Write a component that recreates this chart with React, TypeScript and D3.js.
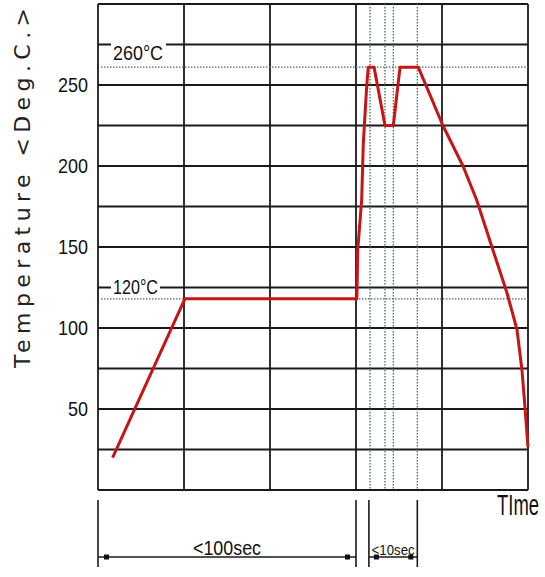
import React from "react";
import * as d3 from "d3";

// time (s, arbitrary units across 5 grid columns) and temperature (°C)
const profileTime = [17, 101, 301, 302, 306.6, 308.5, 312.4, 314.3, 321, 333.7, 343.4, 351.2, 372.4, 401, 424.4, 440.3, 459.3, 475.6, 487.2, 493, 496.5, 500];
const profileTemp = [20, 118, 118, 148, 179, 214, 249, 261, 261, 225, 225, 261, 261, 225, 200, 179, 148, 121.6, 99, 74, 51, 26.5];

const xGridTicks = [0, 100, 200, 300, 400, 500];
const yGridTicks = d3.range(0, 301, 25);
const yLabelTicks = [50, 100, 150, 200, 250];
const refTemps = [261, 118];
const refLabels = ["260°C", "120°C"];
const refLabelGrid = [275, 125];
const dottedTimes = [316.3, 333.7, 343.4, 371.3];
const spans = [
  { from: 0, to: 300, label: "<100sec" },
  { from: 315, to: 371.3, label: "<10sec" },
];

const W = 545;
const H = 577;
const left = 98;
const right = 528;
const top = 4;
const bottom = 490;

export default function App() {
  const x = d3.scaleLinear().domain([0, 500]).range([left, right]);
  const y = d3.scaleLinear().domain([0, 300]).range([bottom, top]);
  const pts = profileTime.map((t, i) => [t, profileTemp[i]] as [number, number]);
  const line = d3
    .line<[number, number]>()
    .x((d) => x(d[0]))
    .y((d) => y(d[1]));
  const font = "'Liberation Sans Narrow', 'Liberation Sans', Arial, sans-serif";
  const dotColor = "#4f6b5c";
  const gridColor = "#1a1a1a";

  return (
    <svg
      width={W}
      height={H}
      style={{ position: "absolute", left: 0, top: 0, background: "#fff" }}
    >
      <rect x={0} y={0} width={W} height={H} fill="#fff" />
      {/* horizontal grid */}
      {yGridTicks.map((v) => (
        <line key={"h" + v} x1={left} x2={right} y1={y(v)} y2={y(v)} stroke={gridColor} strokeWidth={1.8} />
      ))}
      {/* vertical grid */}
      {xGridTicks.map((v) => (
        <line key={"v" + v} x1={x(v)} x2={x(v)} y1={top} y2={bottom} stroke={gridColor} strokeWidth={1.8} />
      ))}
      {/* dotted reference lines */}
      {refTemps.map((v) => (
        <line key={"r" + v} x1={left + 3} x2={right} y1={y(v)} y2={y(v)} stroke={dotColor} strokeWidth={1.3} strokeDasharray="1.5,1.5" />
      ))}
      {dottedTimes.map((t) => (
        <line key={"d" + t} x1={x(t)} x2={x(t)} y1={top} y2={bottom} stroke={dotColor} strokeWidth={1.3} strokeDasharray="1.5,1.5" />
      ))}
      {/* reference labels on grid lines */}
      {refLabels.map((lab, i) => {
        const gy = y(refLabelGrid[i]);
        const dy = i === 0 ? 15 : 6;
        return (
          <g key={lab}>
            <rect x={111} y={gy - 3} width={i === 0 ? 55 : 49} height={6} fill="#fff" />
            <text
              x={113}
              y={gy + dy}
              fontFamily={font}
              fontSize={20}
              fill="#111"
              textLength={i === 0 ? 50 : 45}
              lengthAdjust="spacingAndGlyphs"
            >
              {lab}
            </text>
          </g>
        );
      })}
      {/* y tick labels */}
      {yLabelTicks.map((v) => (
        <text
          key={"t" + v}
          x={88}
          y={y(v) + 7}
          textAnchor="end"
          fontFamily={font}
          fontSize={21}
          fill="#111"
          textLength={v < 100 ? 20 : 30}
          lengthAdjust="spacingAndGlyphs"
        >
          {v}
        </text>
      ))}
      {/* y axis title */}
      <text
        transform={`translate(30, 188) rotate(-90)`}
        textAnchor="middle"
        fontFamily="'DejaVu Sans', sans-serif"
        fontSize={22}
        fill="#222"
        textLength={360}
        lengthAdjust="spacing"
      >
        Temperature &lt;Deg.C.&gt;
      </text>
      {/* x axis title */}
      <g transform="translate(497, 515) scale(1, 1.3)">
        <text
          x={0}
          y={0}
          fontFamily={font}
          fontSize={22}
          fill="#111"
          textLength={42}
          lengthAdjust="spacingAndGlyphs"
        >
          TIme
        </text>
      </g>
      {/* profile */}
      <path d={line(pts) || ""} fill="none" stroke="#c81414" strokeWidth={3} strokeLinejoin="round" />
      {/* dimension spans */}
      {spans.map((s) => {
        const x1 = x(s.from);
        const x2 = x(s.to);
        const ay = 557;
        const small = s.to - s.from < 100;
        return (
          <g key={s.label}>
            <line x1={x1} x2={x1} y1={500} y2={567} stroke={gridColor} strokeWidth={1.6} />
            <line x1={x2} x2={x2} y1={500} y2={567} stroke={gridColor} strokeWidth={1.6} />
            <line x1={x1} x2={x2} y1={ay} y2={ay} stroke={gridColor} strokeWidth={1.6} />
            <rect x={x1 + (small ? 5 : 6)} y={ay - 2.5} width={5} height={5} fill="#111" />
            <rect x={x2 - (small ? 9 : 11)} y={ay - 2.5} width={5} height={5} fill="#111" />
            <text
              x={(x1 + x2) / 2}
              y={555}
              textAnchor="middle"
              fontFamily={font}
              fontSize={small ? 15 : 20}
              fill="#111"
              textLength={small ? 43 : 68}
              lengthAdjust="spacingAndGlyphs"
            >
              {s.label}
            </text>
          </g>
        );
      })}
    </svg>
  );
}
